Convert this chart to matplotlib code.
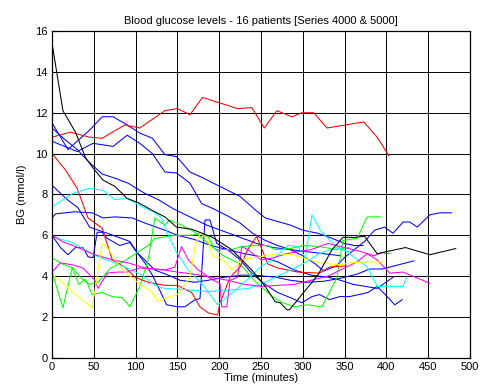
import matplotlib
matplotlib.use('Agg')
import matplotlib.pyplot as plt

# time (minutes) and blood glucose (mmol/l) for each patient
t_k = [0, 13, 28, 40, 49, 61, 75, 90, 103, 123, 135, 149, 167, 192, 215, 239, 255, 267, 273, 281,
       284, 297, 318, 335, 348, 362, 374, 389, 423, 452, 483]
bg_k = [15.4, 12.1, 11.05, 9.8, 9.3, 8.7, 8.4, 7.8, 7.6, 7.15, 6.9, 6.4, 6.3, 5.9, 5.3, 4.3, 3.5, 2.75, 2.7, 2.35,
        2.35, 3.0, 4.05, 5.3, 5.9, 5.9, 5.95, 5.1, 5.4, 5.05, 5.35]

t_r1 = [0, 22, 45, 60, 87, 105, 135, 150, 165, 180, 199, 222, 239, 254, 269, 287, 299, 313, 329, 373, 389, 403]
bg_r1 = [10.8, 11.05, 10.8, 10.75, 11.4, 11.25, 12.1, 12.2, 11.9, 12.75, 12.5, 12.2, 12.25, 11.25, 12.1, 11.8,
         12.0, 12.0, 11.25, 11.55, 10.8, 9.9]

t_r2 = [0, 16, 30, 43, 60, 72, 87, 99, 115, 135, 150, 167, 177, 187, 198, 201, 213, 225, 234, 245,
        258, 270, 294, 320, 332, 352]
bg_r2 = [10.0, 9.2, 8.3, 6.85, 6.35, 4.8, 4.45, 3.95, 3.7, 3.55, 3.55, 3.2, 2.5, 2.2, 2.1, 2.7, 3.95, 4.45, 5.3, 5.95,
         4.6, 4.4, 4.2, 4.15, 4.45, 4.5]

t_b1 = [0, 19, 30, 45, 60, 73, 90, 105, 120, 135, 149, 165, 181, 193, 225, 243, 255, 285, 300, 318,
        335, 350, 362, 372]
bg_b1 = [11.5, 10.2, 10.6, 11.15, 11.8, 11.8, 11.4, 11.0, 10.75, 9.95, 9.85, 9.1, 8.8, 8.55, 7.9, 7.25, 6.85, 6.5,
         6.25, 6.1, 5.85, 5.6, 5.5, 5.5]

t_b2 = [0, 30, 49, 73, 90, 105, 120, 135, 149, 165, 179, 193, 210, 225, 240, 255, 270, 285, 300, 315,
        325, 340, 351, 374, 386, 398, 408, 420, 428, 437, 452, 464, 478]
bg_b2 = [10.6, 10.1, 10.5, 10.35, 10.9, 10.5, 10.0, 9.1, 9.05, 8.55, 7.55, 7.3, 6.95, 6.6, 6.1, 5.75, 5.5, 5.3,
         5.0, 4.6, 4.25, 4.5, 4.95, 5.7, 6.25, 6.4, 6.1, 6.65, 6.65, 6.4, 7.0, 7.1, 7.1]

t_b3 = [0, 18, 31, 45, 66, 93, 102, 123, 139, 153, 171, 187, 207, 227, 243, 267, 285, 305, 325, 345,
        365, 380, 395, 433]
bg_b3 = [8.45, 7.75, 7.35, 6.4, 6.1, 5.7, 5.15, 4.3, 4.05, 3.8, 3.7, 3.8, 3.95, 4.05, 4.05, 3.95, 3.8, 3.7, 3.75,
         3.9, 4.1, 4.35, 4.35, 4.75]

t_b4 = [0, 10, 19, 28, 37, 43, 49, 54, 60, 66, 81, 93, 99, 111, 120, 129, 137, 151, 159, 171,
        177, 183, 189, 197, 210, 225, 240, 255, 270, 285, 299, 311, 320, 332, 344, 356, 378, 389, 401, 410, 419]
bg_b4 = [6.0, 5.4, 5.05, 5.4, 5.4, 4.95, 4.9, 6.15, 6.15, 5.85, 5.5, 5.65, 5.3, 4.65, 4.05, 3.3, 2.6, 2.5, 2.5,
         2.85, 2.9, 6.75, 6.75, 5.6, 5.3, 4.8, 4.1, 3.6, 3.2, 2.95, 2.7, 3.0, 3.1, 2.85, 3.0, 3.0, 3.2, 3.5, 3.0,
         2.6, 2.85]

t_b5 = [0, 4, 27, 48, 61, 75, 96, 111, 135, 150, 170, 190, 210, 230, 250, 270, 290, 310, 330, 345,
        360, 375, 389, 408]
bg_b5 = [6.85, 7.05, 7.15, 7.1, 6.85, 6.9, 6.85, 6.6, 6.25, 6.0, 5.8, 5.5, 5.3, 5.1, 4.95, 4.7, 4.3, 4.05, 3.95,
         3.8, 3.6, 3.5, 3.4, 3.95]

t_b6 = [0, 15, 30, 45, 60, 75, 91, 111, 127, 145, 165, 185, 205, 225, 245, 265, 285, 305, 325, 345]
bg_b6 = [11.25, 10.7, 10.2, 9.55, 9.0, 8.8, 8.55, 8.05, 7.75, 7.3, 6.9, 6.5, 6.2, 5.9, 5.6, 5.4, 5.3, 5.2, 5.1, 5.0]

t_c1 = [0, 25, 45, 61, 75, 90, 103, 123, 131, 138, 149, 163, 179, 198, 219, 237, 249, 264, 282, 294,
        303, 311, 321, 336, 356, 377, 389, 420, 424]
bg_c1 = [7.4, 8.05, 8.3, 8.2, 7.75, 7.8, 7.5, 7.1, 6.85, 6.1, 5.15, 4.3, 3.65, 2.6, 3.3, 3.95, 4.45, 4.8, 5.5,
         5.45, 4.9, 7.0, 6.25, 5.6, 5.1, 4.45, 3.5, 3.5, 3.95]

t_c2 = [0, 7, 24, 39, 55, 72, 87, 108, 123, 135, 160, 185, 210, 235, 255, 275, 300, 320, 340, 355]
bg_c2 = [6.0, 5.85, 5.65, 5.3, 4.95, 4.7, 4.45, 4.05, 3.55, 3.4, 3.35, 3.25, 3.3, 3.4, 3.7, 4.1, 4.6, 5.1, 5.4, 5.2]

t_g1 = [0, 12, 25, 35, 45, 55, 70, 85, 100, 115, 123, 147, 167, 179, 187, 195, 215, 227, 243, 258,
        267, 285, 300, 320, 340, 355]
bg_g1 = [4.9, 4.6, 4.4, 3.9, 3.6, 3.7, 4.4, 4.7, 5.1, 5.5, 5.85, 6.0, 6.0, 6.1, 5.9, 5.3, 5.3, 5.45, 5.5, 5.5,
         5.3, 5.35, 5.5, 5.45, 5.3, 5.4]

t_g2 = [0, 13, 24, 32, 40, 48, 60, 72, 84, 93, 105, 115, 123, 135, 140, 155, 171, 187, 205, 225,
        245, 264, 276, 290, 305, 323, 341, 348, 365, 377, 393]
bg_g2 = [4.2, 2.45, 4.4, 3.6, 3.85, 3.1, 3.2, 3.0, 2.95, 2.5, 3.5, 4.8, 6.85, 6.5, 6.75, 6.5, 6.15, 5.6, 5.0, 4.6,
         3.65, 3.0, 2.7, 2.5, 2.6, 2.5, 3.95, 5.75, 5.85, 6.9, 6.9]

t_y = [0, 10, 25, 48, 60, 66, 81, 102, 120, 127, 137, 150, 165, 171, 177, 185, 193, 203, 215, 227,
       249, 269, 288, 309, 320, 344, 356, 377, 398]
bg_y = [4.05, 3.8, 3.2, 2.45, 5.6, 5.4, 4.45, 3.7, 3.2, 2.75, 2.95, 3.1, 3.95, 5.45, 6.1, 5.9, 4.95, 4.9, 4.3,
        4.8, 4.95, 5.1, 5.05, 4.8, 4.65, 4.55, 4.65, 4.7, 4.7]

t_m1 = [0, 12, 31, 51, 72, 91, 111, 135, 150, 170, 190, 210, 230, 250, 270, 290, 310, 330, 350, 365,
        377, 389, 404, 420, 452]
bg_m1 = [6.0, 5.7, 5.4, 5.05, 4.8, 4.65, 4.4, 4.3, 4.2, 4.1, 3.95, 3.8, 3.6, 3.5, 3.55, 3.6, 3.8, 4.0, 4.4, 4.7,
         5.1, 4.8, 4.15, 4.2, 3.65]

t_m2 = [0, 10, 25, 37, 51, 55, 66, 78, 90, 105, 120, 135, 147, 155, 163, 175, 193, 201, 203, 209,
        213, 222, 227, 234, 250, 265, 280, 295, 310, 330, 350, 370, 385, 395, 403]
bg_m2 = [4.2, 4.65, 4.55, 4.4, 3.8, 3.4, 4.15, 4.2, 4.2, 4.4, 4.35, 4.3, 4.45, 5.45, 4.8, 4.3, 3.8, 3.65, 2.5, 2.5,
         3.8, 3.95, 5.45, 5.3, 4.8, 4.9, 5.1, 5.2, 5.3, 5.6, 5.4, 5.2, 5.0, 5.15, 5.1]

series = [
    (t_b1, bg_b1, (0, 0, 1)),
    (t_b2, bg_b2, (0, 0, 1)),
    (t_b6, bg_b6, (0, 0, 1)),
    (t_b3, bg_b3, (0, 0, 1)),
    (t_b5, bg_b5, (0, 0, 1)),
    (t_b4, bg_b4, (0, 0, 1)),
    (t_g1, bg_g1, (0, 1, 0)),
    (t_g2, bg_g2, (0, 1, 0)),
    (t_r1, bg_r1, (1, 0, 0)),
    (t_r2, bg_r2, (1, 0, 0)),
    (t_c1, bg_c1, (0, 1, 1)),
    (t_c2, bg_c2, (0, 1, 1)),
    (t_m1, bg_m1, (1, 0, 1)),
    (t_m2, bg_m2, (1, 0, 1)),
    (t_y, bg_y, (1, 1, 0)),
    (t_k, bg_k, (0, 0, 0)),
]

plt.rcParams['font.family'] = ['Liberation Sans', 'DejaVu Sans']

fig = plt.figure(figsize=(4.82, 3.92), dpi=100)
ax = fig.add_axes([0.108, 0.087, 0.867, 0.834])

for t, bg, col in series:
    ax.plot(t, bg, color=col, linewidth=0.75)

ax.set_xlim(0, 500)
ax.set_ylim(0, 16)
ax.set_xticks(range(0, 501, 50))
ax.set_yticks(range(0, 17, 2))
ax.grid(True, color='black', linestyle='-', linewidth=0.7)
ax.set_axisbelow(True)
ax.tick_params(direction='in', labelsize=8, length=3, pad=3)
for s in ax.spines.values():
    s.set_linewidth(0.9)

ax.set_title('Blood glucose levels - 16 patients [Series 4000 & 5000]', fontsize=8, pad=5)
ax.set_xlabel('Time (minutes)', fontsize=8, labelpad=1)
ax.set_ylabel('BG (mmol/l)', fontsize=8, labelpad=6)

fig.savefig('out.png', dpi=100)
